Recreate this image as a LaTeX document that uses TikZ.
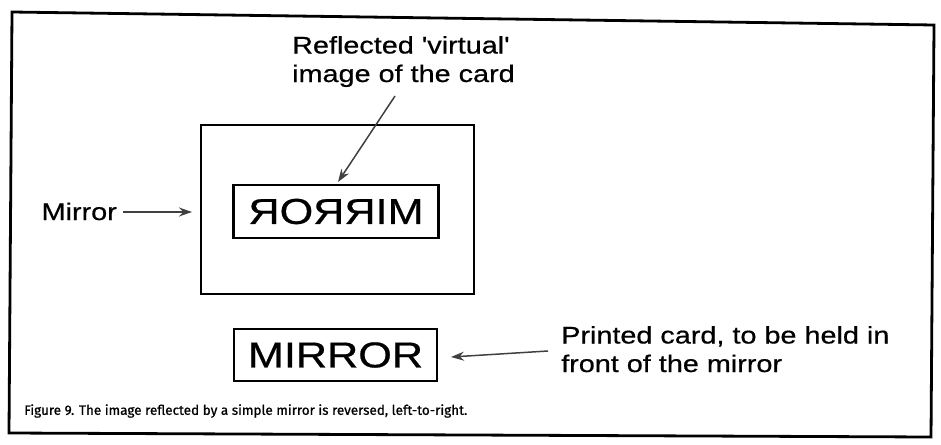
\documentclass[tikz,border=0pt]{standalone}
\usepackage{fontspec}
\setmainfont{Liberation Sans}
\newfontfamily\lblfont[FakeStretch=1.2,FakeBold=0.6]{Liberation Sans}
\newfontfamily\capfont[FakeBold=0.8]{Fira Sans}
\usetikzlibrary{arrows.meta}
\begin{document}
\begin{tikzpicture}[x=1pt,y=-1pt,
  lbl/.style={font=\lblfont\fontsize{24}{28.5}\selectfont, inner sep=0pt, align=left},
  cardbox/.style={draw=black, line width=2.8pt, inner sep=0pt, font=\lblfont\fontsize{36}{36}\selectfont},
  ptr/.style={draw=black!75, line width=1.5pt, -{Stealth[length=13pt,width=9pt]}},
  frame/.style={draw=black, line width=2.8pt}]
\useasboundingbox (0,0) rectangle (941,444);
% outer frame
\draw[frame] (12,12) -- (934,25) -- (931,437) -- (9,433) -- cycle;
% mirror
\draw[draw=black, line width=2.5pt] (201,125) rectangle (474,294);
\node[cardbox, minimum width=205pt, minimum height=53pt] (rcard) at (336,211.5) {\scalebox{-1}[1]{MIRROR}};
\node[cardbox, minimum width=203pt, minimum height=52pt] (pcard) at (335.5,355) {MIRROR};
% labels
\node[lbl, anchor=base west] (title) at (292,82) {Reflected 'virtual'\\image of the card};
\node[lbl, anchor=base east] (mlabel) at (117,220) {Mirror};
\node[lbl, anchor=base west] (plabel) at (561,372) {Printed card, to be held in\\front of the mirror};
\node[font=\capfont\fontsize{13.5}{14}\selectfont, anchor=west, inner sep=0pt] (caption) at (24,411) {Figure 9. The image reflected by a simple mirror is reversed, left-to-right.};
% arrows
\coordinate (t1) at (395,96);
\coordinate (t2) at (338,182);
\draw[ptr] (t1) -- (t2);
\coordinate (m1) at (123,212);
\coordinate (m2) at (192,212);
\draw[ptr] (m1) -- (m2);
\coordinate (p1) at (548,351);
\coordinate (p2) at (451,357);
\draw[ptr] (p1) -- (p2);
\end{tikzpicture}
\end{document}
